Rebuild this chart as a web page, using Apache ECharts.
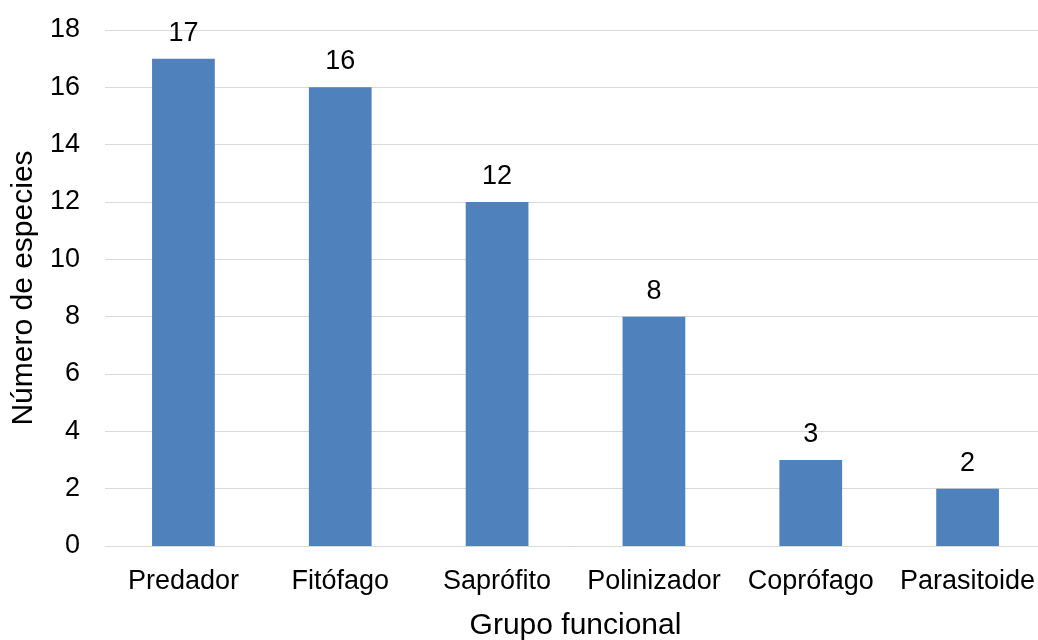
<!DOCTYPE html>
<html>
<head>
<meta charset="utf-8">
<script src="https://cdn.jsdelivr.net/npm/echarts@6/dist/echarts.min.js"></script>
<style>
  html, body { margin: 0; padding: 0; background: #ffffff; }
  #chart { width: 1038px; height: 640px; }
</style>
</head>
<body>
<div id="chart"></div>
<script>
// Especies por grupo funcional
const categories = ['Predador', 'Fitófago', 'Saprófito', 'Polinizador', 'Coprófago', 'Parasitoide'];
const speciesCount = [17, 16, 12, 8, 3, 2];
const yTicks = { min: 0, max: 18, interval: 2 };

const font = 'Liberation Sans, Arial, sans-serif';
const chart = echarts.init(document.getElementById('chart'), null, { renderer: 'canvas' });

chart.setOption({
  animation: false,
  backgroundColor: '#ffffff',
  grid: {
    left: 105, top: 30, width: 941, bottom: 94,
    containLabel: false,
    outerBoundsMode: 'none'
  },
  xAxis: {
    type: 'category',
    data: categories,
    name: 'Grupo funcional',
    nameLocation: 'middle',
    nameGap: 65,
    nameTextStyle: { fontFamily: font, fontSize: 30, color: '#000' },
    axisLine: { show: true, lineStyle: { color: '#d9d9d9', width: 1 } },
    axisTick: { show: false },
    axisLabel: { fontFamily: font, fontSize: 27, color: '#000', margin: 22, interval: 0 }
  },
  yAxis: {
    type: 'value',
    min: yTicks.min,
    max: yTicks.max,
    interval: yTicks.interval,
    name: 'Número de especies',
    nameLocation: 'middle',
    nameGap: 64,
    nameRotate: 90,
    nameTextStyle: { fontFamily: font, fontSize: 30, color: '#000' },
    axisLine: { show: false },
    axisTick: { show: false },
    axisLabel: { fontFamily: font, fontSize: 27, color: '#000', margin: 25 },
    splitLine: { show: true, lineStyle: { color: '#d9d9d9', width: 1 } }
  },
  series: [{
    type: 'bar',
    data: speciesCount,
    barWidth: '40%',
    itemStyle: { color: '#4f81bd' },
    label: {
      show: true,
      position: 'top',
      distance: 12,
      fontFamily: font,
      fontSize: 27,
      color: '#000'
    }
  }]
});
</script>
</body>
</html>
